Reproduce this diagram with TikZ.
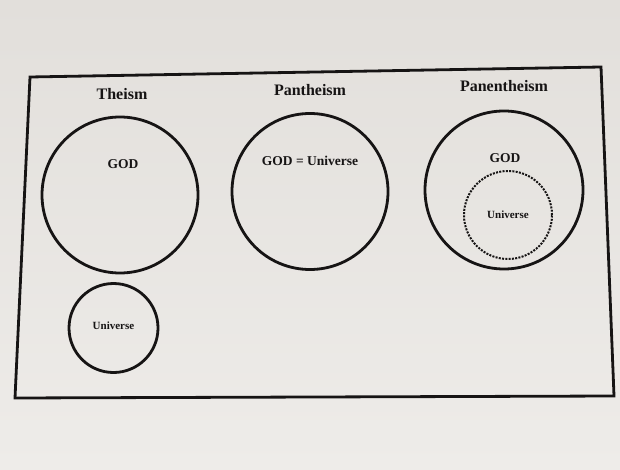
\documentclass[tikz,border=0pt]{standalone}
\usepackage{fontspec}
\setmainfont{Liberation Serif}
\definecolor{paper}{RGB}{226,223,219}
\definecolor{paperlight}{RGB}{238,236,233}
\definecolor{ink}{RGB}{22,20,20}
\tikzset{
  ring/.style={circle, draw=ink, line width=2.8pt, inner sep=0pt},
  dotring/.style={circle, draw=ink, line width=2pt, dash pattern=on 2pt off 1.3pt, inner sep=0pt},
  title/.style={font=\bfseries\fontsize{16}{18}\selectfont, text=ink, inner sep=0pt},
  god/.style={font=\bfseries\fontsize{13.5}{16}\selectfont, text=ink, inner sep=0pt},
  uni/.style={font=\bfseries\fontsize{11}{13}\selectfont, text=ink, inner sep=0pt}
}
\begin{document}
\begin{tikzpicture}[x=1pt, y=-1pt]
\useasboundingbox (0,0) rectangle (620,470);
\shade[top color=paper, bottom color=paperlight] (0,0) rectangle (620,470);
% frame
\coordinate (tl) at (30,77);
\coordinate (tr) at (601,67);
\coordinate (br) at (614,396);
\coordinate (bl) at (15,398);
\draw[ink, line width=2.8pt, line join=miter] (tl) -- (tr) -- (br) -- (bl) -- cycle;
% titles
\node[title] (t1) at (122,94) {Theism};
\node[title] (t2) at (310,90) {Pantheism};
\node[title] (t3) at (504,86) {Panentheism};
% circles
\node[ring, minimum size=156pt] (c1) at (120,195) {};
\node[ring, minimum size=89pt] (c1u) at (113.5,328) {};
\node[ring, minimum size=156pt] (c2) at (310,191.5) {};
\node[ring, minimum size=158pt] (c3) at (504,190) {};
\node[dotring, minimum size=88pt] (c3u) at (508,215) {};
% labels
\node[god] (g1) at (123,164) {GOD};
\node[god] (g2) at (310,161) {GOD = Universe};
\node[god] (g3) at (505,158) {GOD};
\node[uni] (u1) at (113.5,326) {Universe};
\node[uni] (u3) at (508,215) {Universe};
\end{tikzpicture}
\end{document}
